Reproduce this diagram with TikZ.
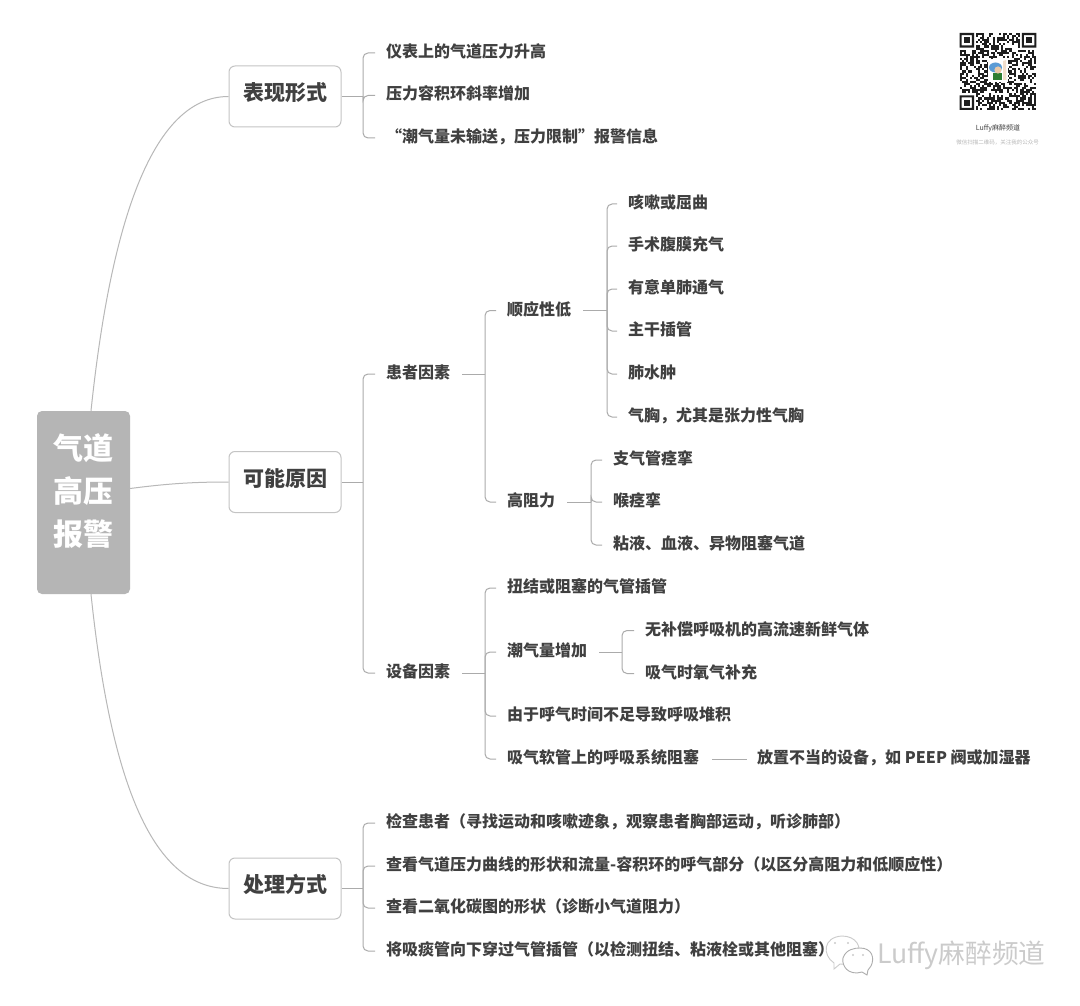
\documentclass[tikz,border=0pt]{standalone}
\usepackage{fontspec}
\setmainfont{Noto Sans CJK SC}
\usetikzlibrary{calc}
\definecolor{ink}{HTML}{404040}
\definecolor{wire}{HTML}{ABABAB}
\definecolor{rootgray}{HTML}{B5B5B5}
\definecolor{boxline}{HTML}{C4C4C4}
\definecolor{wmgray}{HTML}{CBCBCB}
\definecolor{skin}{HTML}{E8C8A8}
\definecolor{hatblue}{HTML}{5A9BD5}
\definecolor{shirt}{HTML}{2E7D32}
\tikzset{
  conn/.style={draw=wire,line width=1pt,rounded corners=5pt},
  curveconn/.style={draw=wire!85!white,line width=1pt},
  leaf/.style={anchor=west,inner sep=0pt,text=ink,text height=14.5pt,text depth=1.5pt,font=\fontsize{16}{16}\selectfont\bfseries},
  topbox/.style={draw=boxline,line width=1pt,fill=white,rounded corners=6pt,minimum width=112pt,minimum height=61pt,inner sep=0pt,text=ink,text height=18pt,text depth=10pt,font=\fontsize{21}{21}\selectfont\bfseries},
  rootbox/.style={fill=rootgray,rounded corners=5pt,minimum width=93pt,minimum height=183pt,inner sep=0pt,text width=93pt,align=center,text=white,font=\fontsize{30}{43}\selectfont\bfseries},
  qrcell/.style={fill=black!88},
}
\newcommand{\twig}[2]{\coordinate (#2-t) at ($(#2.west)+(-11,2)$);\draw[conn] (#1) |- (#2-t);}
\newcommand{\stem}[2]{\draw[conn] ($(#1.east)+(12,2)$) -- (#2);}
\begin{document}
\begin{tikzpicture}[x=1pt,y=-1pt]
\useasboundingbox (0,0) rectangle (1080,1006);
\fill[white] (0,0) rectangle (1080,1006);

% root and main topics
\node[rootbox] (root) at (83.5,502.5) {气道\\高压\\报警\rule[-25pt]{0pt}{25pt}};
\node[topbox] (t1) at (285,96.5) {表现形式};
\node[topbox] (t2) at (285,482) {可能原因};
\node[topbox] (t3) at (285,888.5) {处理方式};
\coordinate (rt) at ($(root.north)+(7.5,0)$);
\coordinate (rb) at ($(root.south)+(7.5,0)$);
\coordinate (rm) at ($(root.east)+(0,-14)$);
\draw[curveconn] (rt) .. controls (110,230) and (150,96.5) .. (t1.west);
\draw[curveconn] (rm) .. controls (165,484) and (190,482) .. (t2.west);
\draw[curveconn] (rb) .. controls (110,775) and (150,888.5) .. (t3.west);

% group 1
\node[leaf] (a1) at (386,51) {仪表上的气道压力升高};
\node[leaf] (a2) at (386,93.5) {压力容积环斜率增加};
\node[leaf] (a3) at (386,136) {“潮气量未输送，压力限制”报警信息};
\coordinate (s1) at (363,96.5);
\draw[conn] (t1.east) -- (s1);
\twig{s1}{a1}\twig{s1}{a2}\twig{s1}{a3}

% group 2
\node[leaf] (b1) at (386,372) {患者因素};
\node[leaf] (b2) at (386,671) {设备因素};
\coordinate (s2) at (363,482);
\draw[conn] (t2.east) -- (s2);
\twig{s2}{b1}\twig{s2}{b2}

\node[leaf] (c1) at (507,308.5) {顺应性低};
\node[leaf] (c2) at (507,500) {高阻力};
\coordinate (s3) at (485,374);
\stem{b1}{s3}
\twig{s3}{c1}\twig{s3}{c2}

\node[leaf] (d1) at (628,202) {咳嗽或屈曲};
\node[leaf] (d2) at (628,244) {手术腹膜充气};
\node[leaf] (d3) at (628,287) {有意单肺通气};
\node[leaf] (d4) at (628,329) {主干插管};
\node[leaf] (d5) at (628,372) {肺水肿};
\node[leaf] (d6) at (628,415) {气胸，尤其是张力性气胸};
\coordinate (s4) at (607,310.5);
\stem{c1}{s4}
\twig{s4}{d1}\twig{s4}{d2}\twig{s4}{d3}\twig{s4}{d4}\twig{s4}{d5}\twig{s4}{d6}

\node[leaf] (e1) at (613,458) {支气管痉挛};
\node[leaf] (e2) at (613,500) {喉痉挛};
\node[leaf] (e3) at (613,543) {粘液、血液、异物阻塞气道};
\coordinate (s5) at (591,502);
\stem{c2}{s5}
\twig{s5}{e1}\twig{s5}{e2}\twig{s5}{e3}

\node[leaf] (f1) at (507,586) {扭结或阻塞的气管插管};
\node[leaf] (f2) at (507,650) {潮气量增加};
\node[leaf] (f3) at (507,714) {由于呼气时间不足导致呼吸堆积};
\node[leaf] (f4) at (507,757) {吸气软管上的呼吸系统阻塞};
\coordinate (s6) at (485,673);
\stem{b2}{s6}
\twig{s6}{f1}\twig{s6}{f2}\twig{s6}{f3}\twig{s6}{f4}

\node[leaf] (g1) at (645,628.5) {无补偿呼吸机的高流速新鲜气体};
\node[leaf] (g2) at (645,671.5) {吸气时氧气补充};
\coordinate (s7) at (622,652);
\stem{f2}{s7}
\twig{s7}{g1}\twig{s7}{g2}

\node[leaf] (h1) at (757,757) {放置不当的设备，如 PEEP 阀或加湿器};
\draw[conn] ($(f4.east)+(13,2)$) -- ($(h1.west)+(-10,2)$);

% group 3
\node[leaf] (k1) at (386,821) {检查患者（寻找运动和咳嗽迹象，观察患者胸部运动，听诊肺部）};
\node[leaf] (k2) at (386,864) {查看气道压力曲线的形状和流量-容积环的呼气部分（以区分高阻力和低顺应性）};
\node[leaf] (k3) at (386,906) {查看二氧化碳图的形状（诊断小气道阻力）};
\node[leaf] (k4) at (386,949) {将吸痰管向下穿过气管插管（以检测扭结、粘液栓或其他阻塞）};
\coordinate (s8) at (363,888.5);
\draw[conn] (t3.east) -- (s8);
\twig{s8}{k1}\twig{s8}{k2}\twig{s8}{k3}\twig{s8}{k4}

% QR block
\pgfmathsetseed{4711}
\begin{scope}[shift={(959.5,33)},x=2.08pt,y=-2.08pt]
  \foreach \i in {0,...,36}{\foreach \j in {0,...,36}{
    \pgfmathrandominteger{\qrv}{0}{99}
    \pgfmathtruncatemacro{\qrskip}{or(and(\i<8,\j<8),or(and(\i>28,\j<8),and(\i<8,\j>28)))}
    \ifnum\qrskip=0 \ifnum\qrv<50 \fill[qrcell] (\i,\j) rectangle ++(1,1); \fi\fi
  }}
  \foreach \cx/\cy in {0/0,30/0,0/30}{
    \fill[qrcell,even odd rule] (\cx,\cy) rectangle ++(7,7) (\cx+1,\cy+1) rectangle ++(5,5);
    \fill[qrcell] (\cx+2,\cy+2) rectangle ++(3,3);
  }
\end{scope}
\fill[white] (988,59) rectangle (1008,82);
\fill[shirt] (993,73) rectangle (1002,80.5);
\fill[hatblue] (995.5,67.5) ellipse (6.5pt and 5pt);
\fill[skin] (998,70) circle (3.6pt);
\fill[skin!60!white] (1003,61) -- (1006,60) -- (1006.5,80) -- (1003,80) -- cycle;
\node[inner sep=0pt,text=ink,font=\fontsize{7}{7}\selectfont] (qr1) at (998,128) {Luffy麻醉频道};
\node[inner sep=0pt,text=black!28,font=\fontsize{5.5}{5.5}\selectfont] (qr2) at (997.5,142) {微信扫描二维码，关注我的公众号};

% watermark
\draw[draw=wmgray,line width=.9pt,fill=white] (834,963) .. controls (822,955) and (823,937) .. (842,936) .. controls (856,936) and (863,947) .. (857,958) .. controls (853,964) and (845,965) .. (840,964) -- (834,969) -- cycle;
\draw[draw=wmgray!85!black,line width=.9pt,fill=white] (857,973) .. controls (844,973) and (842,962) .. (843,958) .. controls (846,949) and (855,948) .. (860,948) .. controls (872,948) and (875,958) .. (871,966) -- (868,970) -- (867,975) -- (862,972) -- cycle;
\fill[wmgray] (835,943) circle (1.1pt) (848,943) circle (1.1pt) (853,955) circle (1.1pt) (863,955) circle (1.1pt);
\node[anchor=west,inner sep=0pt,text=wmgray,font=\fontsize{26.7}{27}\selectfont] (wm) at (877,955) {Luffy麻醉频道};
\end{tikzpicture}
\end{document}
